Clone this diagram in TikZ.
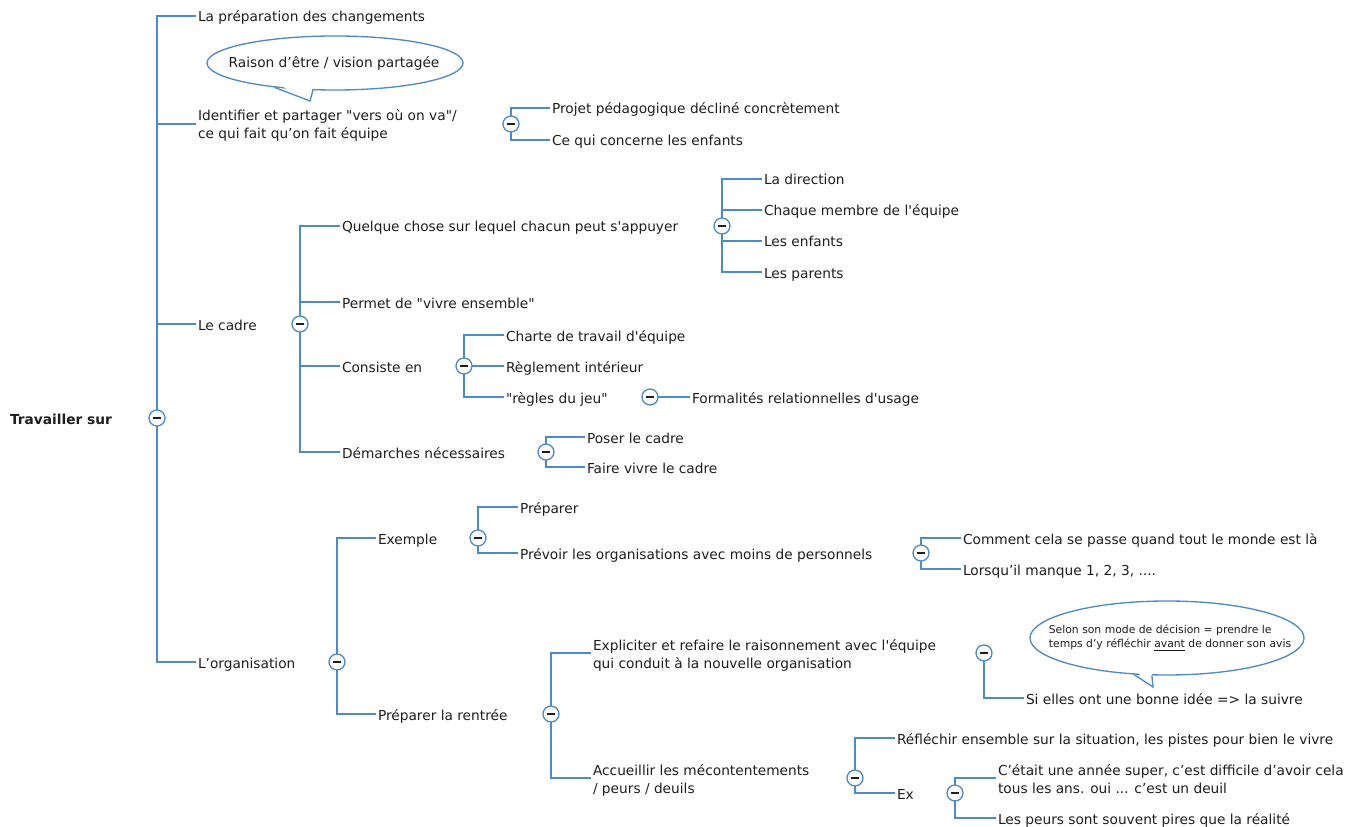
\documentclass[tikz,border=0pt]{standalone}
\usepackage{fontspec}
\setmainfont{DejaVu Sans}[Ligatures=TeXOff]
\usetikzlibrary{shapes.geometric,backgrounds}
\definecolor{lblue}{RGB}{78,138,198}
\definecolor{ink}{RGB}{30,30,30}
\newcommand{\twol}[2]{\vtop{\baselineskip=13.5pt\hbox{#1}\hbox{#2}}}
\tikzset{
  conn/.style={draw=lblue, line width=1.1pt},
  txt/.style={anchor=west, inner sep=0pt, outer xsep=1.5pt, outer ysep=0pt, text=ink,
    font=\fontsize{10.3}{13.5}\selectfont, text height=9pt, text depth=0pt},
  txttwo/.style={txt, text depth=13.5pt},
  coll/.style={circle, draw=lblue, fill=white, line width=1pt, minimum size=12pt, inner sep=0pt,
    path picture={\draw[line width=0.9pt, ink] ([xshift=-2.8pt]path picture bounding box.center) -- ([xshift=2.8pt]path picture bounding box.center);}},
  callout/.style={ellipse, draw=lblue, fill=white, line width=1pt, inner sep=0pt},
}
\begin{document}
\begin{tikzpicture}[x=0.75pt, y=-0.75pt]
\useasboundingbox (0,0) rectangle (1356,827);

% root
\node[txt, font=\fontsize{10.3}{13.5}\selectfont\bfseries] (root) at (8,418) {Travailler sur};
\node[coll] (c0) at (157,418) {};

% level 1
\node[txt] (n1) at (196,16) {La préparation des changements};
\node[txttwo] (n2) at (196,124) {\twol{Identifier et partager "vers où on va"/}{ce qui fait qu’on fait équipe}};
\node[txt] (n3) at (196,324) {Le cadre};
\node[txt] (n4) at (196,662) {L’organisation};

% callout 1
\node[callout, minimum width=256*0.75pt, minimum height=54*0.75pt] (cb1) at (335,63) {};
\node[inner sep=0pt, text=ink, font=\fontsize{10.3}{13.5}\selectfont] (cb1t) at (334,63) {Raison d’être / vision partagée};
\coordinate (tip1) at (310,101);
\fill[white] ([shift={(2,-4)}]cb1.202) -- (tip1) -- ([shift={(0,-4)}]cb1.231) -- cycle;
\draw[lblue, line width=1pt, line join=miter] (cb1.202) -- (tip1) -- (cb1.231);

% Identifier children
\node[coll] (c1) at (511,124) {};
\node[txt] (n2a) at (550,108) {Projet pédagogique décliné concrètement};
\node[txt] (n2b) at (550,140) {Ce qui concerne les enfants};

% Le cadre children
\node[coll] (c3) at (300,324) {};
\node[txt] (n3a) at (340,226) {Quelque chose sur lequel chacun peut s'appuyer};
\node[txt] (n3b) at (340,302) {Permet de "vivre ensemble"};
\node[txt] (n3c) at (340,366) {Consiste en};
\node[txt] (n3d) at (340,452) {Démarches nécessaires};

\node[coll] (c3a) at (722,226) {};
\node[txt] (n3a1) at (762,179) {La direction};
\node[txt] (n3a2) at (762,210) {Chaque membre de l'équipe};
\node[txt] (n3a3) at (762,241) {Les enfants};
\node[txt] (n3a4) at (762,272) {Les parents};

\node[coll] (c3c) at (464,366) {};
\node[txt] (n3c1) at (504,335) {Charte de travail d'équipe};
\node[txt] (n3c2) at (504,366) {Règlement intérieur};
\node[txt] (n3c3) at (504,397) {"règles du jeu"};
\node[coll] (c3c3) at (650,397) {};
\node[txt] (n3c3a) at (690,397) {Formalités relationnelles d'usage};

\node[coll] (c3d) at (546,452) {};
\node[txt] (n3d1) at (585,437) {Poser le cadre};
\node[txt] (n3d2) at (585,467) {Faire vivre le cadre};

% L'organisation children
\node[coll] (c4) at (337,662) {};
\node[txt] (n4a) at (376,538) {Exemple};
\node[txt] (n4b) at (376,714) {Préparer la rentrée};

\node[coll] (c4a) at (478,538) {};
\node[txt] (n4a1) at (518,507) {Préparer};
\node[txt] (n4a2) at (518,553) {Prévoir les organisations avec moins de personnels};
\node[coll] (c4a2) at (921,553) {};
\node[txt] (n4a2a) at (961,538) {Comment cela se passe quand tout le monde est là};
\node[txt] (n4a2b) at (961,569) {Lorsqu’il manque 1, 2, 3, ....};

\node[coll] (c4b) at (551,714) {};
\node[txttwo] (n4b1) at (591,653) {\twol{Expliciter et refaire le raisonnement avec l'équipe}{qui conduit à la nouvelle organisation}};
\node[txttwo] (n4b2) at (591,778) {\twol{Accueillir les mécontentements}{/ peurs / deuils}};

\node[coll] (c4b1) at (984,653) {};
\node[txt] (n4b1a) at (1024,698) {Si elles ont une bonne idée => la suivre};

% callout 2
\node[callout, minimum width=274*0.75pt, minimum height=74*0.75pt] (cb2) at (1167,638) {};
\node[inner sep=0pt, text=ink, align=left, font=\fontsize{8.1}{10.5}\selectfont] (cb2t) at (1170,638) {Selon son mode de décision = prendre le\\temps d’y réfléchir \underline{avant} de donner son avis};
\coordinate (tip2) at (1153,687);
\fill[white] ([shift={(2,-4)}]cb2.228) -- (tip2) -- ([shift={(0,-4)}]cb2.248) -- cycle;
\draw[lblue, line width=1pt, line join=miter] (cb2.228) -- (tip2) -- (cb2.248);

\node[coll] (c4b2) at (855,778) {};
\node[txt] (n4b2a) at (895,738) {Réfléchir ensemble sur la situation, les pistes pour bien le vivre};
\node[txt] (n4b2b) at (895,793) {Ex};
\node[coll] (cex) at (955,793) {};
\node[txttwo] (nex1) at (996,778) {\twol{C’était une année super, c’est difficile d’avoir cela}{tous les ans. oui ... c’est un deuil}};
\node[txt] (nex2) at (996,818) {Les peurs sont souvent pires que la réalité};

\begin{scope}[on background layer]
\foreach \a/\b in {c0/n1, c0/n2, c0/n3, c0/n4,
  c1/n2a, c1/n2b,
  c3/n3a, c3/n3b, c3/n3c, c3/n3d,
  c3a/n3a1, c3a/n3a2, c3a/n3a3, c3a/n3a4,
  c3c/n3c1, c3c/n3c2, c3c/n3c3, c3c3/n3c3a,
  c3d/n3d1, c3d/n3d2,
  c4/n4a, c4/n4b,
  c4a/n4a1, c4a/n4a2, c4a2/n4a2a, c4a2/n4a2b,
  c4b/n4b1, c4b/n4b2, c4b1/n4b1a,
  c4b2/n4b2a, c4b2/n4b2b, cex/nex1, cex/nex2}
  \draw[conn] (\a.center) |- (\b.west);
\end{scope}
\end{tikzpicture}
\end{document}
